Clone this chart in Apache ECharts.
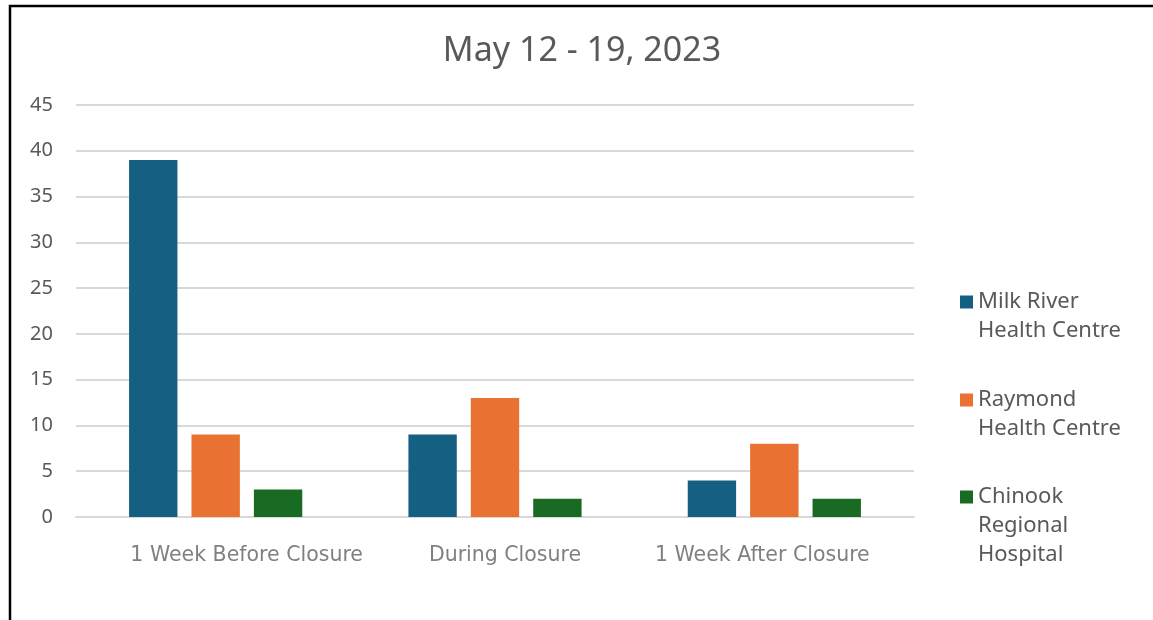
<!DOCTYPE html>
<html>
<head>
<meta charset="utf-8">
<script src="https://cdn.jsdelivr.net/npm/echarts@6/dist/echarts.min.js"></script>
<style>html,body{margin:0;padding:0;background:#fff;}#c{width:1153px;height:620px;}</style>
</head>
<body>
<div id="c"></div>
<script>
const title = 'May 12 - 19, 2023';
const categories = ['1 Week Before Closure', 'During Closure', '1 Week After Closure'];
const seriesNames = ['Milk River Health Centre', 'Raymond Health Centre', 'Chinook Regional Hospital'];
const legendLabels = ['Milk River\nHealth Centre', 'Raymond\nHealth Centre', 'Chinook\nRegional\nHospital'];
const milkRiver = [39, 9, 4];
const raymond = [9, 13, 8];
const chinook = [3, 2, 2];
const colors = ['#156082', '#E97132', '#196B24'];

// horizontal nudges of the category labels (px), as in the source image
const labelShift = [31, 10, -12];

const values = [milkRiver, raymond, chinook];
const legendCenters = [302, 400, 497];
const lineH = 29;

const legends = seriesNames.map((name, i) => {
  const lines = legendLabels[i].split('\n');
  const n = lines.length;
  // leading blank lines keep the icon level with the first text line
  const text = new Array(n - 1).fill('').concat(lines).join('\n');
  const h = lineH * (2 * n - 1);
  return {
    data: [name],
    orient: 'vertical',
    left: 960,
    top: legendCenters[i] - h / 2,
    padding: 0,
    itemWidth: 13,
    itemHeight: 13,
    itemGap: 12,
    icon: 'rect',
    formatter: () => text,
    textStyle: {
      fontFamily: 'Noto Sans',
      fontSize: 22,
      color: '#595959',
      lineHeight: lineH
    }
  };
});

const rich = {};
labelShift.forEach((s, i) => {
  rich['c' + i] = {
    fontFamily: 'DejaVu Sans',
    fontSize: 20.5,
    color: '#808080',
    padding: s >= 0 ? [0, 0, 0, 2 * s] : [0, -2 * s, 0, 0]
  };
});

const chart = echarts.init(document.getElementById('c'), null, {renderer: 'canvas'});
chart.setOption({
  animation: false,
  backgroundColor: '#fff',
  title: {
    text: title,
    left: 577,
    textAlign: 'center',
    top: 29,
    textStyle: {fontFamily: 'Noto Sans', fontSize: 34, fontWeight: 'normal', color: '#595959'}
  },
  graphic: [{
    type: 'rect',
    shape: {x: 10, y: 6, width: 1300, height: 800},
    style: {fill: 'none', stroke: '#000', lineWidth: 2.5},
    silent: true,
    z: 100
  }],
  legend: legends,
  grid: {left: 76, right: 239, top: 105, bottom: 103, containLabel: false},
  xAxis: {
    type: 'category',
    data: categories,
    axisLine: {show: true, lineStyle: {color: '#d9d9d9', width: 2}},
    axisTick: {show: false},
    axisLabel: {
      interval: 0,
      margin: 28,
      fontFamily: 'DejaVu Sans',
      fontSize: 20.5,
      color: '#808080',
      formatter: (v, idx) => '{c' + idx + '|' + v + '}',
      rich: rich
    }
  },
  yAxis: {
    type: 'value',
    min: 0,
    max: 45,
    interval: 5,
    axisLine: {show: false},
    axisTick: {show: false},
    axisLabel: {
      margin: 23,
      fontFamily: 'Noto Sans',
      fontSize: 20,
      color: '#595959'
    },
    splitLine: {lineStyle: {color: '#d9d9d9', width: 2}}
  },
  series: seriesNames.map((name, i) => ({
    name: name,
    type: 'bar',
    data: values[i],
    itemStyle: {color: colors[i]},
    barGap: '29%',
    barCategoryGap: '38%'
  }))
});
</script>
</body>
</html>
